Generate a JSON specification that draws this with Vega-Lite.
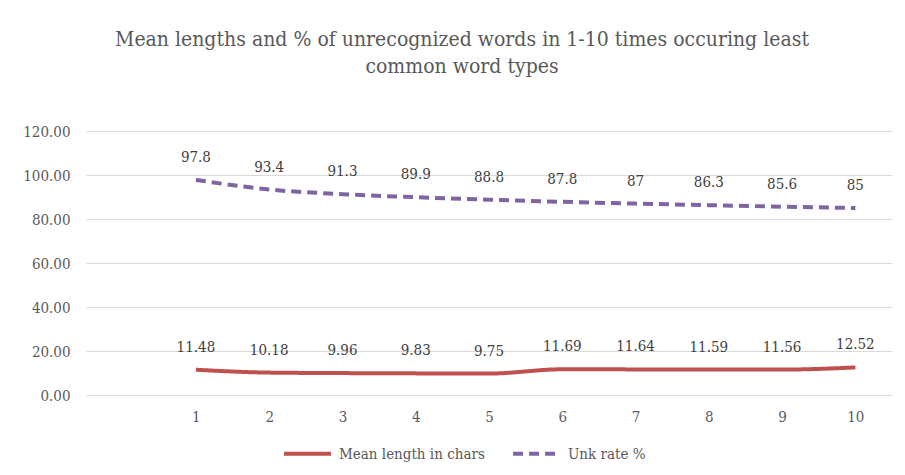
{
  "$schema": "https://vega.github.io/schema/vega-lite/v6.json",
  "width": 806,
  "height": 264,
  "autosize": {"type": "none"},
  "padding": {"left": 86, "top": 131, "right": 13, "bottom": 80},
  "background": "white",
  "title": {
    "text": ["Mean lengths and % of unrecognized words in 1-10  times occuring  least", "common word types"],
    "font": "DejaVu Serif Condensed",
    "fontSize": 21,
    "fontWeight": "normal",
    "color": "#595959",
    "anchor": "middle",
    "frame": "group",
    "offset": 47,
    "lineHeight": 27,
    "dx": -27
  },
  "config": {
    "view": {"stroke": null},
    "font": "DejaVu Serif Condensed",
    "axis": {"labelFont": "DejaVu Serif Condensed", "labelColor": "#595959", "labelFontSize": 15, "domain": false, "ticks": false, "title": null}
  },
  "data": {
    "values": [
      {"x": 1, "series": "Mean length in chars", "value": 11.48, "label": "11.48"},
      {"x": 2, "series": "Mean length in chars", "value": 10.18, "label": "10.18"},
      {"x": 3, "series": "Mean length in chars", "value": 9.96, "label": "9.96"},
      {"x": 4, "series": "Mean length in chars", "value": 9.83, "label": "9.83"},
      {"x": 5, "series": "Mean length in chars", "value": 9.75, "label": "9.75"},
      {"x": 6, "series": "Mean length in chars", "value": 11.69, "label": "11.69"},
      {"x": 7, "series": "Mean length in chars", "value": 11.64, "label": "11.64"},
      {"x": 8, "series": "Mean length in chars", "value": 11.59, "label": "11.59"},
      {"x": 9, "series": "Mean length in chars", "value": 11.56, "label": "11.56"},
      {"x": 10, "series": "Mean length in chars", "value": 12.52, "label": "12.52"},
      {"x": 1, "series": "Unk rate %", "value": 97.8, "label": "97.8"},
      {"x": 2, "series": "Unk rate %", "value": 93.4, "label": "93.4"},
      {"x": 3, "series": "Unk rate %", "value": 91.3, "label": "91.3"},
      {"x": 4, "series": "Unk rate %", "value": 89.9, "label": "89.9"},
      {"x": 5, "series": "Unk rate %", "value": 88.8, "label": "88.8"},
      {"x": 6, "series": "Unk rate %", "value": 87.8, "label": "87.8"},
      {"x": 7, "series": "Unk rate %", "value": 87, "label": "87"},
      {"x": 8, "series": "Unk rate %", "value": 86.3, "label": "86.3"},
      {"x": 9, "series": "Unk rate %", "value": 85.6, "label": "85.6"},
      {"x": 10, "series": "Unk rate %", "value": 85, "label": "85"}
    ]
  },
  "encoding": {
    "x": {
      "field": "x", "type": "quantitative",
      "scale": {"domain": [-0.5, 10.5], "nice": false, "zero": false},
      "axis": {"values": [1,2,3,4,5,6,7,8,9,10], "format": "d", "grid": false, "labelPadding": 14}
    },
    "y": {
      "field": "value", "type": "quantitative",
      "scale": {"domain": [0, 120], "nice": false},
      "axis": {"values": [0,20,40,60,80,100,120], "format": ".2f", "grid": true, "gridColor": "#d9d9d9", "gridWidth": 1, "labelPadding": 16}
    }
  },
  "layer": [
    {
      "mark": {"type": "line", "interpolate": "monotone", "strokeWidth": 4},
      "encoding": {
        "color": {
          "field": "series", "type": "nominal",
          "scale": {"domain": ["Mean length in chars", "Unk rate %"], "range": ["#c0504d", "#8064a2"]},
          "legend": {"orient": "none", "legendX": 196, "legendY": 297, "direction": "horizontal", "title": null,
            "symbolType": "stroke", "symbolSize": 2200, "symbolStrokeWidth": 4,
            "labelFont": "DejaVu Serif Condensed", "labelFontSize": 15, "labelColor": "#595959",
            "columnPadding": 20, "labelOffset": 6}
        },
        "strokeDash": {
          "field": "series", "type": "nominal",
          "scale": {"domain": ["Mean length in chars", "Unk rate %"], "range": [[1, 0], [10, 6]]},
          "legend": {"orient": "none", "legendX": 196, "legendY": 297, "direction": "horizontal", "title": null,
            "symbolType": "stroke", "symbolSize": 2200, "symbolStrokeWidth": 4,
            "labelFont": "DejaVu Serif Condensed", "labelFontSize": 15, "labelColor": "#595959",
            "columnPadding": 20, "labelOffset": 6}
        }
      }
    },
    {
      "mark": {"type": "text", "dy": -23, "fontSize": 15, "color": "#404040", "font": "DejaVu Serif Condensed"},
      "encoding": {"text": {"field": "label"}}
    }
  ]
}
